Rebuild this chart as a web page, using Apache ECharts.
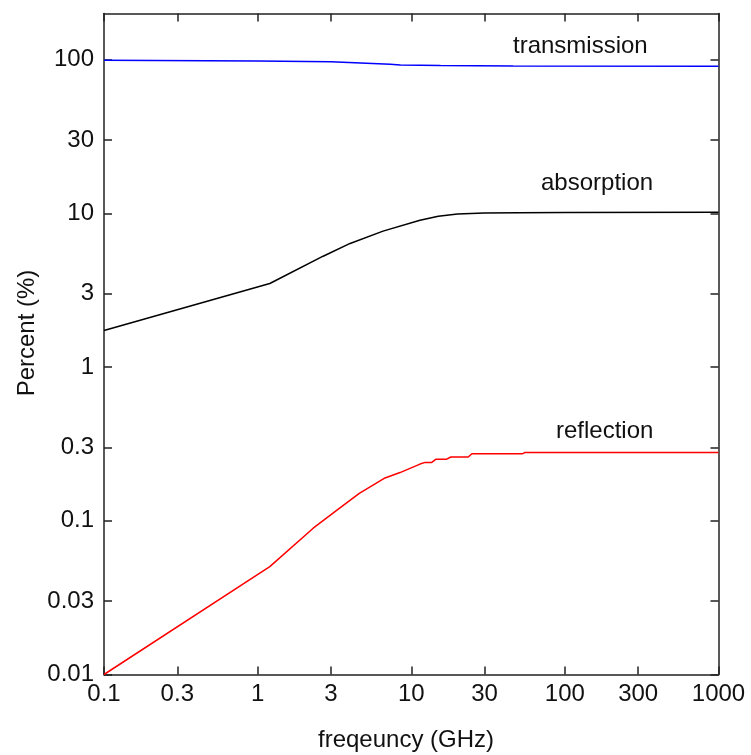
<!DOCTYPE html>
<html>
<head>
<meta charset="utf-8">
<script src="https://cdn.jsdelivr.net/npm/echarts@6/dist/echarts.min.js"></script>
<style>
  html, body { margin: 0; padding: 0; background: #fff; }
  #chart { width: 751px; height: 755px; }
</style>
</head>
<body>
<div id="chart"></div>
<script>
// Frequency ticks (GHz) and percent ticks on both log axes
const xTicks = [0.1, 0.3, 1, 3, 10, 30, 100, 300, 1000];
const yTicks = [0.01, 0.03, 0.1, 0.3, 1, 3, 10, 30, 100];

// Transmission (%) vs frequency (GHz)
const transFreq = [0.1, 1, 3, 7.3, 8.5, 15.5, 46, 1000];
const transVal  = [99.2, 98.2, 97.0, 93.5, 92.5, 91.7, 91.0, 90.8];

// Absorption (%) vs frequency (GHz)
const absFreq = [0.1, 1.2, 2.67, 4.0, 6.55, 11.4, 15, 20, 30, 50, 100, 1000];
const absVal  = [1.73, 3.5, 5.27, 6.38, 7.67, 9.04, 9.6, 9.9, 10.05, 10.1, 10.15, 10.2];

// Reflection (%) vs frequency (GHz)
const refFreq = [0.1, 1.2, 2.3, 3.35, 4.59, 6.75, 8.45, 11.4, 12.3, 13.6, 14.5, 17.0, 18.1, 23.5, 24.8, 53.2, 55.1, 1000];
const refVal  = [0.01, 0.0503, 0.0895, 0.119, 0.151, 0.19, 0.206, 0.234, 0.240, 0.240, 0.252, 0.252, 0.260, 0.260, 0.2733, 0.2733, 0.2786, 0.2786];

const FONT = 'Liberation Sans, Arial, sans-serif';
const AXIS_COLOR = '#222';

function pairs(xs, ys) { return xs.map((x, i) => [x, ys[i]]); }
function fmt(v) { return String(+(+v).toPrecision(3)); }

function xAxisCfg(pos, showLabels) {
  return {
    type: 'log', logBase: 10, min: 0.1, max: 1000, position: pos,
    axisLine: { show: true, onZero: false, lineStyle: { color: AXIS_COLOR, width: 1.5 } },
    axisTick: { show: true, inside: true, length: 8, customValues: xTicks,
                lineStyle: { color: AXIS_COLOR, width: 1.5 } },
    minorTick: { show: false },
    axisLabel: { show: showLabels, customValues: xTicks, formatter: fmt, margin: 8,
                 fontFamily: FONT, fontSize: 24, color: '#111' },
    splitLine: { show: false }
  };
}
function yAxisCfg(pos, showLabels) {
  return {
    type: 'log', logBase: 10, min: 0.01, max: 200, position: pos,
    axisLine: { show: true, onZero: false, lineStyle: { color: AXIS_COLOR, width: 1.5 } },
    axisTick: { show: true, inside: true, length: 8, customValues: yTicks,
                lineStyle: { color: AXIS_COLOR, width: 1.5 } },
    minorTick: { show: false },
    axisLabel: { show: showLabels, customValues: yTicks, formatter: fmt, margin: 10,
                 fontFamily: FONT, fontSize: 24, color: '#111' },
    splitLine: { show: false }
  };
}

function lineSeries(name, data, color) {
  return {
    name, type: 'line', data, xAxisIndex: 0, yAxisIndex: 0,
    showSymbol: false, symbol: 'none', smooth: false,
    lineStyle: { color, width: 1.5 }, silent: true
  };
}

const chart = echarts.init(document.getElementById('chart'), null, { renderer: 'canvas' });
chart.setOption({
  animation: false,
  backgroundColor: '#fff',
  grid: { left: 104, right: 32.5, top: 13.5, bottom: 80.5, containLabel: false },
  xAxis: [xAxisCfg('bottom', true), xAxisCfg('top', false)],
  yAxis: [yAxisCfg('left', true), yAxisCfg('right', false)],
  series: [
    lineSeries('transmission', pairs(transFreq, transVal), '#0000ff'),
    lineSeries('absorption', pairs(absFreq, absVal), '#000000'),
    lineSeries('reflection', pairs(refFreq, refVal), '#ff0000')
  ],
  graphic: [
    { type: 'text', left: 513, top: 34, style: { text: 'transmission', font: '24px ' + FONT, fill: '#111' } },
    { type: 'text', left: 541, top: 171, style: { text: 'absorption', font: '24px ' + FONT, fill: '#111' } },
    { type: 'text', left: 556, top: 419, style: { text: 'reflection', font: '24px ' + FONT, fill: '#111' } },
    { type: 'text', left: 318, top: 728, style: { text: 'freqeuncy (GHz)', font: '24px ' + FONT, fill: '#111' } },
    { type: 'text', x: 27, y: 333, rotation: Math.PI / 2,
      style: { text: 'Percent (%)', font: '24px ' + FONT, fill: '#111', align: 'center', verticalAlign: 'middle' } }
  ]
});
</script>
</body>
</html>
